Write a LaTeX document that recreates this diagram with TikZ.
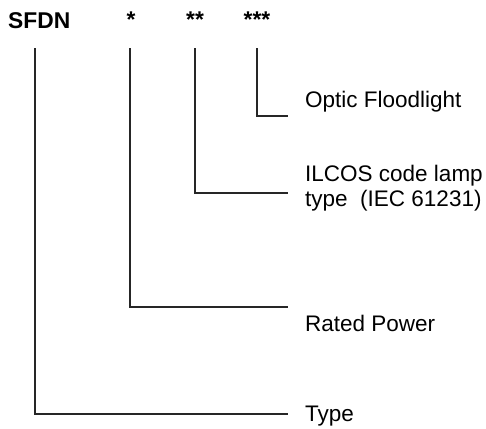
\documentclass[tikz,border=0pt]{standalone}
\usepackage{fontspec}
\setmainfont{Liberation Sans}
\usepackage{tikz}
\usetikzlibrary{positioning,calc}

\begin{document}
\begin{tikzpicture}[x=1pt,y=-1pt]
        \tikzstyle{head}=[inner sep=0pt, font=\fontsize{22.8}{26}\selectfont\bfseries]
        \tikzstyle{lbl}=[inner sep=0pt, anchor=base west, align=left, font=\fontsize{22.5}{24.5}\selectfont]
        \tikzstyle{lead}=[line width=1.3pt, black!85]

        \useasboundingbox (0,0) rectangle (486,428);

        \node[head, anchor=base west] (sfdn) at (8,29) {SFDN};
        \node[head, anchor=base] (star1) at (131,28) {*};
        \node[head, anchor=base] (star2) at (195,28) {**};
        \node[head, anchor=base] (star3) at (257,28) {***};

        \coordinate (top1) at (35,48);
        \coordinate (top2) at (130,48);
        \coordinate (top3) at (195,48);
        \coordinate (top4) at (257,48);

        \coordinate (end1) at (288,414);
        \coordinate (end2) at (288,307);
        \coordinate (end3) at (288,193);
        \coordinate (end4) at (288,116);

        \node[lbl] (optic) at (305,107) {Optic Floodlight};
        \node[lbl] (ilcos) at (305,206) {ILCOS code lamp\\type~ (IEC 61231)};
        \node[lbl] (power) at (305,331.5) {Rated Power};
        \node[lbl] (type) at (305,421.5) {Type};

        \draw[lead] (top1) |- (end1);
        \draw[lead] (top2) |- (end2);
        \draw[lead] (top3) |- (end3);
        \draw[lead] (top4) |- (end4);
    \end{tikzpicture}
\end{document}
